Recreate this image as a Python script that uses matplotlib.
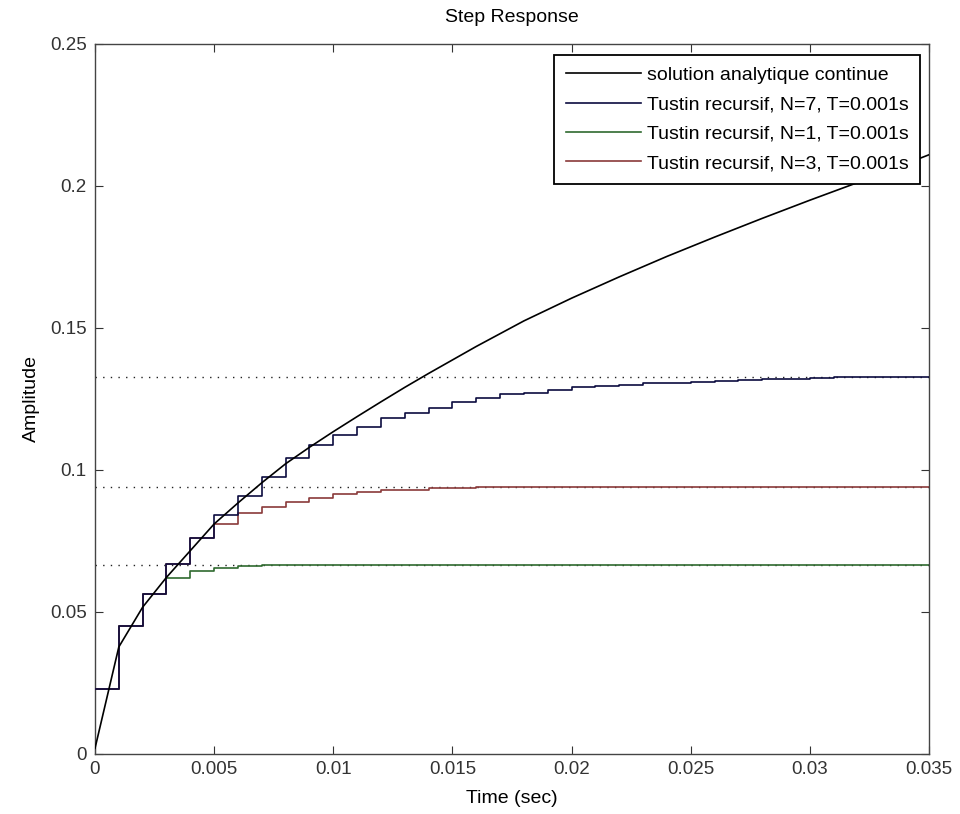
import numpy as np
import matplotlib.pyplot as plt
from matplotlib import font_manager

# sampling period of the recursive approximations
T = 0.001

# continuous (analytic) step response
t_analytic = [0.0, 0.001, 0.002, 0.003, 0.004, 0.005, 0.006, 0.007, 0.008,
              0.009, 0.010, 0.011, 0.012, 0.013, 0.014, 0.016, 0.018, 0.020,
              0.022, 0.024, 0.026, 0.028, 0.030, 0.032, 0.035]
y_analytic = [0.002, 0.0377, 0.0517, 0.0622, 0.0716, 0.0810, 0.0884, 0.0955,
              0.1022, 0.1080, 0.1135, 0.1188, 0.1240, 0.1291, 0.1340, 0.1435,
              0.1525, 0.1605, 0.1680, 0.1752, 0.1820, 0.1886, 0.1950, 0.2012,
              0.2110]

# discrete step responses, one value per sample k*T (k = 0..34)
y_n7 = [0.0228, 0.0449, 0.0565, 0.0669, 0.0759, 0.0841, 0.0909, 0.0976,
        0.1041, 0.1087, 0.1122, 0.1151, 0.1184, 0.1199, 0.1219, 0.1239,
        0.1252, 0.1266, 0.1271, 0.1283, 0.1291, 0.1296, 0.1299, 0.1306,
        0.1308, 0.1310, 0.1315, 0.1317, 0.1319, 0.1321, 0.1325, 0.1326,
        0.1326, 0.1326, 0.1326]
y_n1 = [0.0228, 0.0449, 0.0565, 0.0620, 0.0644, 0.0655, 0.0662, 0.0667,
        0.0667, 0.0667, 0.0667, 0.0667, 0.0667, 0.0667, 0.0667, 0.0667,
        0.0667, 0.0667, 0.0667, 0.0667, 0.0667, 0.0667, 0.0667, 0.0667,
        0.0667, 0.0667, 0.0667, 0.0667, 0.0667, 0.0667, 0.0667, 0.0667,
        0.0667, 0.0667, 0.0667]
y_n3 = [0.0228, 0.0449, 0.0565, 0.0669, 0.0759, 0.0809, 0.0847, 0.0870,
        0.0889, 0.0903, 0.0915, 0.0924, 0.0930, 0.0931, 0.0936, 0.0937,
        0.0939, 0.0941, 0.0941, 0.0941, 0.0941, 0.0941, 0.0941, 0.0941,
        0.0941, 0.0941, 0.0941, 0.0941, 0.0941, 0.0941, 0.0941, 0.0941,
        0.0941, 0.0941, 0.0941]

# steady-state values
final_n7 = 0.1326
final_n1 = 0.0667
final_n3 = 0.0941

labels = ["solution analytique continue",
          "Tustin recursif, N=7, T=0.001s",
          "Tustin recursif, N=1, T=0.001s",
          "Tustin recursif, N=3, T=0.001s"]
colors = ["#000000", "#0c0c40", "#2f6a2f", "#8a3a3a"]

x_ticks = [0, 0.005, 0.01, 0.015, 0.02, 0.025, 0.03, 0.035]
x_ticklabels = ["0", "0.005", "0.01", "0.015", "0.02", "0.025", "0.03", "0.035"]
y_ticks = [0, 0.05, 0.1, 0.15, 0.2, 0.25]
y_ticklabels = ["0", "0.05", "0.1", "0.15", "0.2", "0.25"]


def main() -> None:
    names = {f.name for f in font_manager.fontManager.ttflist}
    family = "Liberation Sans" if "Liberation Sans" in names else "DejaVu Sans"
    plt.rcParams["font.family"] = family

    fig = plt.figure(figsize=(9.6, 8.14), dpi=100)
    ax = fig.add_axes([95 / 960, 1 - 754 / 814, 834 / 960, 710 / 814])

    t_steps = np.arange(len(y_n7) + 1) * T

    ax.plot(t_analytic, y_analytic, color=colors[0], lw=1.2, label=labels[0],
            zorder=3.5)
    # N=7 stays on top where the three staircases coincide
    for vals, c, lab, z in [(y_n7, colors[1], labels[1], 3),
                            (y_n1, colors[2], labels[2], 2.5),
                            (y_n3, colors[3], labels[3], 2.7)]:
        ax.step(t_steps, np.append(vals, vals[-1]), where="post",
                color=c, lw=1.2, label=lab, zorder=z)

    # final value markers
    for fv in (final_n7, final_n3, final_n1):
        ax.axhline(fv, color="#222222", lw=1.0, ls=(0, (1, 4.5)), zorder=1)

    ax.set_xlim(0, 0.035)
    ax.set_ylim(0, 0.25)
    ax.set_xticks(x_ticks)
    ax.set_xticklabels(x_ticklabels)
    ax.set_yticks(y_ticks)
    ax.set_yticklabels(y_ticklabels)
    ax.tick_params(direction="in", length=6, width=0.8, top=True, right=True,
                   labelsize=13.5, colors="#333333", labelcolor="#333333")
    ax.tick_params(axis="x", pad=5)
    ax.tick_params(axis="y", pad=6)
    for sp in ax.spines.values():
        sp.set_color("#444444")
        sp.set_linewidth(1.0)

    ax.set_title("Step Response", fontsize=14, pad=16)
    ax.set_xlabel("Time (sec)", fontsize=14, labelpad=9)
    ax.set_ylabel("Amplitude", fontsize=14, labelpad=7)

    leg = ax.legend(loc="upper right", bbox_to_anchor=(920 / 960, 1 - 55 / 814),
                    bbox_transform=fig.transFigure, borderaxespad=0,
                    fontsize=14, handlelength=3.85, handletextpad=0.3,
                    labelspacing=0.6, borderpad=0.6, fancybox=False,
                    framealpha=1, edgecolor="black")
    leg.get_frame().set_linewidth(1.3)
    leg.set_zorder(5)

    fig.savefig("out.png", dpi=100)


if __name__ == "__main__":
    main()
